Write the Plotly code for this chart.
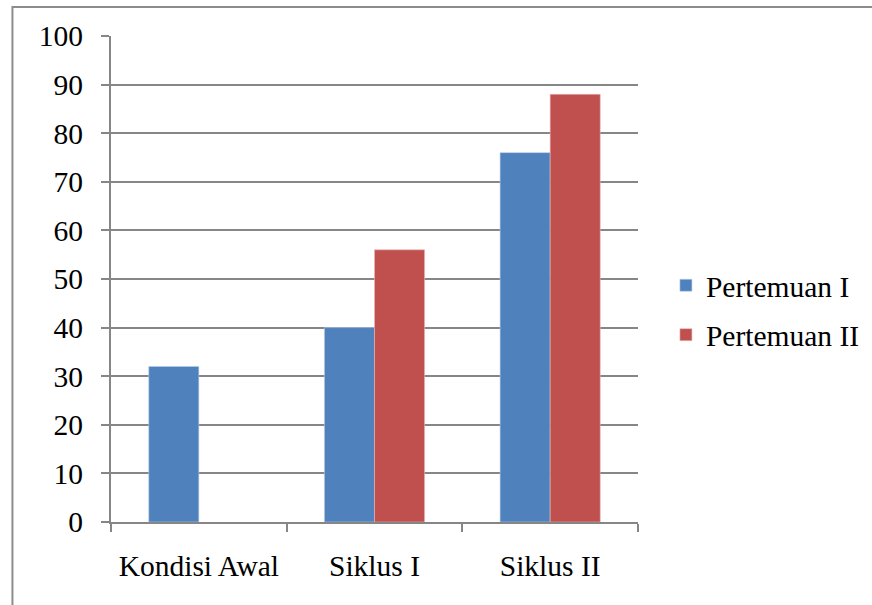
import plotly.graph_objects as go

categories = ["Kondisi Awal", "Siklus I", "Siklus II"]
pertemuan_1 = [32, 40, 76]
pertemuan_2 = [None, 56, 88]
y_ticks = [0, 10, 20, 30, 40, 50, 60, 70, 80, 90, 100]

FONT = "Liberation Serif"
GRID = "#868686"

fig = go.Figure()
fig.add_trace(go.Bar(
    name="Pertemuan I", x=categories, y=pertemuan_1, legendgroup="p1",
    marker=dict(color="#4F81BD", line=dict(color="#B9CDE5", width=0.6)),
))
fig.add_trace(go.Bar(
    name="Pertemuan II", x=categories, y=pertemuan_2, legendgroup="p2",
    marker=dict(color="#C0504D", line=dict(color="#E6B9B8", width=0.6)),
))

fig.update_layout(
    width=872, height=605,
    margin=dict(l=111, r=234, t=36, b=83, autoexpand=False),
    paper_bgcolor="white", plot_bgcolor="white",
    barmode="group", bargap=0.43, bargroupgap=0,
    font=dict(family=FONT, size=29.5, color="#000000"),
    showlegend=True,
    legend=dict(
        x=1.053, y=0.436, xanchor="left", yanchor="middle",
        itemwidth=30, tracegroupgap=8, traceorder="grouped",
    ),
    shapes=[dict(
        type="rect", xref="paper", yref="paper",
        x0=-0.187, x1=1.6, y0=-0.6, y1=1.0597,
        line=dict(color="#8C8C8C", width=2), fillcolor="rgba(0,0,0,0)",
        layer="below",
    )],
)

fig.update_xaxes(
    type="category", showline=True, linecolor=GRID, linewidth=2,
    ticks="outside", tickson="boundaries", ticklen=8, tickwidth=2, tickcolor=GRID,
    showgrid=False, ticklabelstandoff=17,
)
fig.update_yaxes(
    range=[0, 100], tickvals=y_ticks, showline=True, linecolor=GRID, linewidth=2,
    ticks="outside", ticklen=8, tickwidth=2, tickcolor=GRID,
    showgrid=True, gridcolor=GRID, gridwidth=2, zeroline=False,
    ticklabelstandoff=12,
)

fig.write_html("out.html")
